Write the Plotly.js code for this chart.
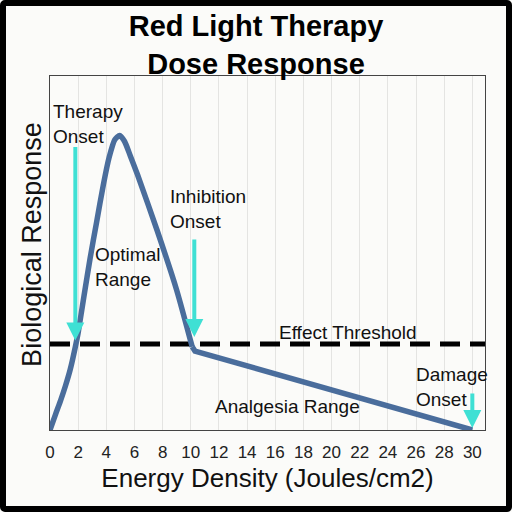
<!DOCTYPE html>
<html>
<head>
<meta charset="utf-8">
<script src="https://cdn.plot.ly/plotly-3.0.1.min.js"></script>
<style>
  body { margin: 0; background: #fbfbf9; }
  #chart { position: absolute; left: 0; top: 0; width: 512px; height: 512px; }
  #frame { position: absolute; left: 0; top: 0; width: 512px; height: 512px;
           box-sizing: border-box; border: 6px solid #000; border-radius: 5px;
           pointer-events: none; }
</style>
</head>
<body>
<div id="chart"></div>
<div id="frame"></div>
<script>
// dose response curve (y is a 0-100 response scale)
var energy   = [0, 0.4, 0.75, 1.1, 1.45, 1.8, 2.0, 2.4, 2.85, 3.3, 3.8, 4.2, 4.6, 4.95, 5.3, 5.7, 6.2, 7.6, 9.0, 10.1];
var response = [0, 4.5, 8.3, 12.5, 17.3, 23.5, 27.5, 37.5, 48.5, 58.5, 69.5, 77, 82, 83.2, 81.5, 77.5, 72.3, 56.5, 39.5, 23.5];
// analgesia tail, straight from the kink to zero
var tailEnergy   = [10.1, 10.3, 30];
var tailResponse = [23.5, 22.3, 0];

var threshold = 24.3;
var xMax = 30.9;
var tickVals = [0, 2, 4, 6, 8, 10, 12, 14, 16, 18, 20, 22, 24, 26, 28, 30];

// arrows: where each onset is marked
var onsetX = [1.8, 10.25, 30];
var onsetY = [threshold + 1, threshold + 2, 0.6];
var arrowLen = [195, 99, 36];

var FONT = 'Liberation Sans, Arial, sans-serif';
var CURVE = '#4a6d9c';

var curve = {
  x: energy, y: response,
  type: 'scatter', mode: 'lines',
  line: { color: CURVE, width: 5.5, shape: 'spline', smoothing: 0.6 },
  hoverinfo: 'skip'
};

var tail = {
  x: tailEnergy, y: tailResponse,
  type: 'scatter', mode: 'lines',
  line: { color: CURVE, width: 5.5 },
  hoverinfo: 'skip'
};

var thresholdLine = {
  x: [0, xMax], y: [threshold, threshold],
  type: 'scatter', mode: 'lines',
  line: { color: '#000', width: 5, dash: '20px,10px' },
  hoverinfo: 'skip'
};

var txt = { family: FONT, size: 19, color: '#111' };

var annotations = [
  { text: 'Therapy<br>Onset', x: 0.07, y: 86.5, xanchor: 'left', yanchor: 'middle', align: 'left' },
  { text: 'Optimal<br>Range', x: 3.03, y: 46.0, xanchor: 'left', yanchor: 'middle', align: 'left' },
  { text: 'Inhibition<br>Onset', x: 8.36, y: 62.3, xanchor: 'left', yanchor: 'middle', align: 'left' },
  { text: 'Effect Threshold', x: 21.2, y: 27.5, xanchor: 'center', yanchor: 'middle' },
  { text: 'Analgesia Range', x: 16.9, y: 6.5, xanchor: 'center', yanchor: 'middle' },
  { text: 'Damage<br>Onset', x: 25.84, y: 12.2, xanchor: 'left', yanchor: 'middle', align: 'left' }
].map(function (a) {
  a.xref = 'x'; a.yref = 'y'; a.showarrow = false; a.font = txt;
  return a;
});

for (var i = 0; i < onsetX.length; i++) {
  annotations.push({
    x: onsetX[i], y: onsetY[i], xref: 'x', yref: 'y',
    text: '', showarrow: true, ax: 0, ay: -arrowLen[i],
    arrowhead: 2, arrowsize: 0.9, arrowwidth: 4, arrowcolor: '#3fe0d4'
  });
}

// y axis title, placed by hand so it sits where the original has it
annotations.push({
  text: 'Biological Response', textangle: -90,
  xref: 'paper', yref: 'paper', x: -0.042, y: 0.525,
  xanchor: 'center', yanchor: 'middle', showarrow: false,
  font: { family: FONT, size: 27, color: '#111' }
});

var layout = {
  width: 512, height: 512,
  margin: { l: 50, r: 27, t: 76, b: 82 },
  paper_bgcolor: '#fbfbf9', plot_bgcolor: '#fbfbf9',
  showlegend: false,
  title: {
    text: '<b>Red Light Therapy<br>Dose Response</b>',
    font: { family: FONT, size: 29, color: '#000' },
    xref: 'container', x: 0.5, yref: 'container', y: 1 - 36 / 512, yanchor: 'middle'
  },
  xaxis: {
    range: [0, xMax], tickvals: tickVals, ticks: '',
    ticklabelstandoff: 7,
    showgrid: true, gridcolor: '#e4e4e2', gridwidth: 1, zeroline: false,
    showline: true, mirror: true, linecolor: '#444', linewidth: 1,
    tickfont: { family: FONT, size: 17, color: '#222' },
    title: { text: 'Energy Density (Joules/cm2)', standoff: 7,
             font: { family: FONT, size: 26, color: '#111' } }
  },
  yaxis: {
    range: [0, 100], showticklabels: false, ticks: '',
    showgrid: false, zeroline: false,
    showline: true, mirror: true, linecolor: '#444', linewidth: 1
  },
  annotations: annotations
};

Plotly.newPlot('chart', [thresholdLine, curve, tail], layout, { staticPlot: true });
</script>
</body>
</html>
